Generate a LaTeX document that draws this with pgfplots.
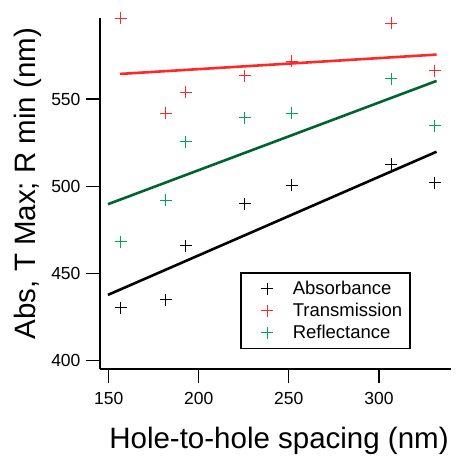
\documentclass[border=0pt]{standalone}
\usepackage{pgfplots}
\pgfplotsset{compat=1.18}
\usepackage{fontspec}
\setmainfont{Liberation Sans}
\definecolor{tred}{RGB}{255,40,40}
\definecolor{rgreen}{RGB}{0,166,80}
\definecolor{rgline}{RGB}{0,100,50}
\begin{document}
\begin{tikzpicture}
\useasboundingbox (0,0) rectangle (457pt,456pt);
\begin{axis}[
  at={(100pt,87pt)}, anchor=south west,
  scale only axis, width=351pt, height=350.7pt,
  xmin=145.2, xmax=340, ymin=395.2, ymax=596.3,
  axis x line*=bottom, axis y line*=left,
  axis line style={-, line width=1.5pt, black},
  xtick={150,200,250,300}, ytick={400,450,500,550},
  tick align=outside, major tick length=14pt,
  tick style={line width=1.3pt, black},
  minor tick num=0,
  /pgf/number format/assume math mode=true,
  /pgf/number format/1000 sep={},
  tick label style={font=\fontsize{17.5}{20}\selectfont},
  xticklabel style={yshift=-6pt},
  yticklabel style={xshift=-2pt},
  xlabel={Hole-to-hole spacing (nm)},
  ylabel={Abs, T Max; R min (nm)},
  label style={font=\fontsize{29.5}{32}\selectfont},
  xlabel style={at={(axis description cs:0.51,-0.2253)}, anchor=base},
  ylabel style={at={(axis description cs:-0.185,0.529)}, anchor=base},
  clip=false,
  legend style={at={(axis description cs:0.399,0.2757)}, anchor=north west,
    draw=black, line width=1.5pt, inner xsep=0pt, inner ysep=4.7pt,
    font=\fontsize{18.5}{20}\selectfont,
    row sep=0pt, column sep=0pt,
    nodes={inner sep=0pt, minimum height=22pt, text width=117pt, align=left}},
  legend cell align=left,
  legend image code/.code={\path (-25.7pt,0pt) (25.3pt,0pt); \draw[#1] plot coordinates {(0pt,0pt)};},
]
% fitted lines
\addplot[black, line width=2.6pt, forget plot] coordinates {(149.6,437.7) (332,519.8)};
\addplot[tred, line width=2.6pt, forget plot] coordinates {(156.3,564.4) (332,575.5)};
\addplot[rgline, line width=2.6pt, forget plot] coordinates {(149.6,489.7) (332,560.4)};
% data
\addplot[only marks, mark=+, mark size=6pt, black, line width=1pt] coordinates {
(156.7,430.4) (181.8,434.8) (192.7,465.9) (225.6,489.9) (251.6,500.6) (306.7,512.6) (331.1,502.1)};
\addlegendentry{Absorbance}
\addplot[only marks, mark=+, mark size=6pt, tred, line width=1pt] coordinates {
(156.7,596.3) (181.8,541.9) (192.7,553.9) (225.6,563.4) (251.6,571.8) (306.7,593.5) (331.1,566.3)};
\addlegendentry{Transmission}
\addplot[only marks, mark=+, mark size=6pt, rgreen, line width=1pt] coordinates {
(156.7,468.2) (181.8,492.1) (192.7,525.4) (225.6,539.3) (251.6,541.9) (306.7,561.5) (331.1,534.7)};
\addlegendentry{Reflectance}
\end{axis}
\end{tikzpicture}
\end{document}
